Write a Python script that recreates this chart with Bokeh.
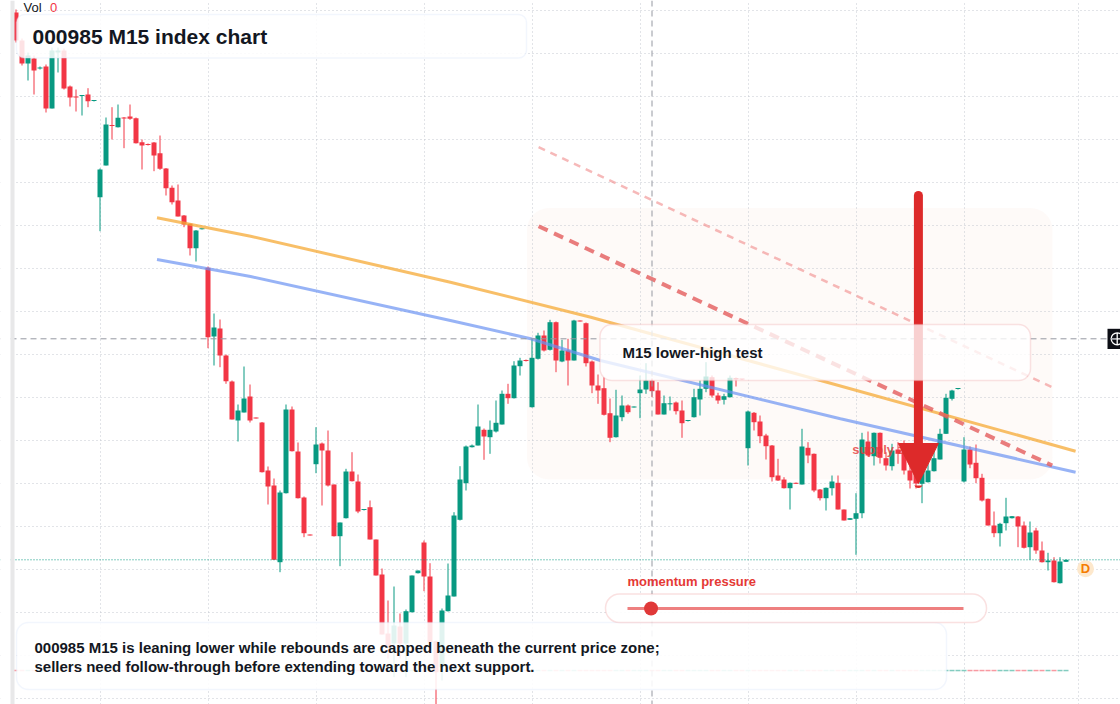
from bokeh.plotting import figure
from bokeh.models import (Range1d, BoxAnnotation, Label, Span, Arrow, NormalHead,
                          FixedTicker, Grid, ColumnDataSource)
from bokeh.core.properties import value
from bokeh.embed import file_html
from bokeh.resources import INLINE

# ---------------- data (15-minute bars, index price) ----------------
opens = [5988, 5960, 5937, 5942, 5932, 5934, 5892, 5948, 5950, 5914,
         5904, 5904.5, 5906, 5899.5, 5803.3, 5835, 5875.5, 5873.3, 5883, 5884,
         5882.3, 5858.3, 5856.5, 5858, 5847.3, 5832, 5812.7, 5800, 5785, 5776.7,
         5752.3, 5771.2, 5732.7, 5664, 5672, 5645, 5619, 5580, 5588, 5604,
         5583, 5578, 5530, 5515, 5438.3, 5507.3, 5591, 5549, 5503, 5466,
         5536.3, 5557, 5550, 5516, 5464.3, 5482.3, 5529, 5519, 5490.5, 5493.3,
         5461, 5426, 5367, 5357, 5374, 5357, 5388.3, 5427.3, 5458, 5424,
         5359.3, 5333.3, 5389.3, 5404, 5480.7, 5517.3, 5553.3, 5555, 5570.7, 5563.3,
         5569, 5576, 5606.7, 5602.3, 5634.3, 5640.5, 5593.3, 5641.7, 5665, 5650.7,
         5678.3, 5639, 5650, 5640, 5679.5, 5677.3, 5639, 5615, 5612.3, 5587.3,
         5563.3, 5583.3, 5595, 5593, 5607.3, 5611, 5620, 5610, 5586, 5596.2,
         5598, 5590, 5579.5, 5583.3, 5601, 5611.7, 5623.3, 5605, 5600.7, 5603.3,
         5622.5, 5621.5, 5552.3, 5587.7, 5579, 5565, 5555, 5525, 5521, 5512.3,
         5517.7, 5516, 5552.7, 5546.7, 5511, 5502.3, 5512.3, 5517.7, 5491, 5480.7,
         5481.7, 5487.3, 5559, 5544.3, 5567.7, 5542.3, 5534.3, 5551, 5552, 5530,
         5535, 5516.7, 5518.3, 5529.3, 5541, 5566.7, 5601.7, 5611.5, 5519, 5551,
         5537.7, 5522.7, 5501.7, 5475, 5467.3, 5477.3, 5482.3, 5484, 5475, 5453.3,
         5470, 5450, 5438.3, 5440, 5417.3, 5438.7]
highs = [5991, 5962, 5948, 5945, 5934, 5936, 5953, 5953, 5952, 5915,
         5911, 5905, 5912.3, 5900, 5832, 5883, 5893.3, 5896, 5883.5, 5896,
         5883, 5861, 5857, 5858.5, 5865, 5832.5, 5815, 5816, 5785.5, 5777,
         5770.5, 5772, 5734, 5687, 5681, 5646, 5620, 5596, 5634, 5616,
         5583, 5578.5, 5534, 5522, 5510, 5596, 5594, 5558, 5504, 5466,
         5573.3, 5558, 5570, 5516, 5478, 5531.7, 5548.3, 5526, 5491, 5500,
         5461, 5432, 5400, 5414, 5387, 5391, 5425, 5430, 5460, 5437.3,
         5360, 5392, 5437, 5488.3, 5534.3, 5555, 5556, 5596, 5572, 5580,
         5600, 5610, 5616.7, 5639.3, 5642.7, 5641, 5661.7, 5667.7, 5670, 5680.7,
         5679, 5660.7, 5661.7, 5680.7, 5680, 5678, 5640, 5626, 5623.3, 5602,
         5610.7, 5605, 5596, 5594, 5625, 5637.3, 5622, 5618.3, 5605, 5604,
         5599, 5600, 5580, 5611.7, 5620, 5638.3, 5625, 5607.7, 5606.7, 5625,
         5623, 5621.5, 5590, 5588.5, 5585, 5566.7, 5555.5, 5541.7, 5523.3, 5518,
         5518, 5571.7, 5558.3, 5547, 5511.5, 5513, 5525, 5525, 5491, 5482.5,
         5507.3, 5567.7, 5569, 5568, 5568, 5548.3, 5556.7, 5558.3, 5560, 5535,
         5542, 5535, 5538, 5555, 5571.7, 5606.7, 5610.7, 5612, 5563.3, 5554,
         5556, 5526.7, 5502, 5489, 5477.7, 5502.7, 5484.5, 5484.5, 5479, 5479,
         5472.7, 5459, 5447.7, 5443.3, 5443.3, 5441]
lows = [5958, 5935, 5920, 5906, 5931, 5888, 5892, 5928, 5911, 5894,
        5889, 5885, 5893.3, 5899, 5769.3, 5835, 5861, 5873, 5852.3, 5880.7,
        5857, 5831, 5855, 5829.3, 5830.7, 5805, 5796, 5784, 5773.3, 5745,
        5739, 5771, 5652.3, 5635, 5633.3, 5616.7, 5581, 5559, 5588, 5578,
        5582, 5528, 5496, 5440.5, 5428.3, 5507, 5549, 5502, 5463.3, 5465,
        5527.3, 5495, 5514, 5464, 5434.3, 5482, 5519, 5487.3, 5490, 5461,
        5425, 5366, 5342, 5323.3, 5342, 5323.3, 5388, 5427, 5409.3, 5358.3,
        5292, 5320, 5389, 5404, 5480, 5510, 5553, 5555, 5540.7, 5546.7,
        5568, 5576, 5596.7, 5602, 5625, 5639, 5593, 5641, 5649, 5650,
        5628.3, 5638.3, 5615, 5640, 5679, 5634, 5607.3, 5596.7, 5585, 5558.3,
        5563, 5579.3, 5586.7, 5593, 5582.3, 5606.7, 5603.3, 5586, 5586, 5590,
        5586, 5562.7, 5579, 5583, 5585, 5608.3, 5603, 5596.7, 5596, 5603,
        5614, 5620.5, 5535, 5570, 5557.3, 5541, 5519, 5519.5, 5512, 5491,
        5516.5, 5516, 5537.3, 5508.3, 5500, 5490, 5505, 5491, 5480, 5480.5,
        5445.7, 5482.3, 5544, 5535, 5537, 5530, 5530, 5536.7, 5526, 5512,
        5512, 5497.3, 5518, 5529, 5541, 5566.5, 5600, 5611, 5518, 5532.3,
        5517.3, 5499, 5475, 5463.3, 5454, 5470, 5482, 5453.3, 5452, 5440.7,
        5446.7, 5438, 5430, 5418, 5417, 5438.5]
closes = [5960, 5937, 5945, 5930, 5933, 5892, 5950, 5950, 5912, 5903,
          5903, 5905, 5899.3, 5900, 5831, 5876, 5874.5, 5882.7, 5882, 5881.7,
          5857.3, 5855, 5855.5, 5845, 5831.7, 5812.3, 5798.3, 5784, 5776, 5752.3,
          5770, 5771.7, 5663.3, 5673, 5645, 5619.3, 5581, 5590, 5602, 5580,
          5582, 5528.3, 5514, 5440.7, 5508, 5591, 5549.3, 5502.3, 5467.3, 5465,
          5556, 5550, 5515, 5464.3, 5478, 5529, 5519.3, 5489, 5491, 5461,
          5425, 5366, 5353.3, 5375, 5357, 5389.3, 5425, 5430, 5424, 5358.3,
          5328.3, 5390, 5405, 5485, 5521, 5554, 5555, 5574, 5564, 5570.7,
          5577.7, 5606.7, 5602.3, 5635, 5640, 5639.5, 5642.7, 5665, 5650, 5678.3,
          5640, 5650, 5640, 5680, 5679, 5637.3, 5615, 5610, 5585.7, 5562.7,
          5585, 5595, 5588.3, 5593.5, 5611, 5620, 5609.3, 5586, 5597.3, 5596.7,
          5589.3, 5577.3, 5580, 5603.3, 5611.7, 5624, 5605, 5600, 5604.3, 5622.7,
          5621, 5621, 5589, 5578.3, 5564.3, 5554.3, 5523.3, 5520, 5512.3, 5517.7,
          5516.7, 5554, 5545, 5510, 5502.3, 5512.7, 5519, 5491, 5480, 5482.3,
          5487.3, 5561, 5545, 5567.7, 5542.7, 5535, 5550, 5546.7, 5530, 5520,
          5517, 5530, 5530, 5542.3, 5566.7, 5602.7, 5610, 5612, 5551, 5536,
          5522.3, 5500, 5475, 5467.3, 5476.7, 5484, 5484.3, 5474, 5452.7, 5468,
          5450, 5438.3, 5440, 5418.3, 5439, 5440.7]

# drawn studies (bar index, price)
res_bars = [23.5, 39.1, 72.4, 95.8, 134.1, 176.6]
res_prices = [5782.7, 5764.3, 5718.3, 5683.3, 5620.0, 5549.3]
sup_bars = [23.5, 39.1, 72.4, 85.8, 97.4, 137.4, 176.6]
sup_prices = [5741.0, 5724.0, 5680.0, 5661.7, 5640.0, 5581.7, 5528.3]
guide_bars = [87.1, 172.7]
upper_guide = [5853.3, 5613.3]
lower_guide = [5774.3, 5535.0]
arrow_bar = 150.4
arrow_from, arrow_to = 5805.0, 5517.0
crosshair_bar, crosshair_price = 106, 5661.7
momentum_pressure = 0.07
vol_value = 0

title_text = "000985 M15 index chart"
note_text = "M15 lower-high test"
zone_text = "supply zone"
summary_lines = ["000985 M15 is leaning lower while rebounds are capped beneath the current price zone;",
                 "sellers need follow-through before extending toward the next support."]

# ---------------- layout helpers ----------------
W, H = 1120, 704
BAR_PX, X0_PX, TOP = 6.0, 15.5, 6000.0


def bx(px):
    return (px - X0_PX) / BAR_PX


def py(y):
    return TOP - y


UP, DOWN = "#089981", "#f23645"
FONT = "Liberation Sans"
INK = "#131722"

p = figure(width=W, height=H, x_range=Range1d(bx(0), bx(W)), y_range=Range1d(py(H), py(0)),
           output_backend="svg", toolbar_location=None, x_axis_type=None, y_axis_type=None,
           min_border=0, background_fill_color="white", border_fill_color="white")
p.outline_line_color = None

# supply zone shading
p.add_layout(BoxAnnotation(left=bx(526.5), right=bx(1052), top=py(207.5), bottom=py(479),
                           border_radius=22, fill_color="#f6e3d6", fill_alpha=0.16,
                           line_color=None, level="underlay"))

# grids
p.add_layout(Grid(dimension=0, ticker=FixedTicker(ticks=[14, 32, 50, 68, 86, 104, 122, 140, 158, 177]),
                  grid_line_color="#c4c8d0", grid_line_dash="1 3", grid_line_width=1))
p.add_layout(Grid(dimension=1, ticker=FixedTicker(ticks=[py(9.5 + 43 * k) for k in range(17)]),
                  grid_line_color="#c4c8d0", grid_line_dash="1 3", grid_line_width=1))

n = len(opens)
idx = list(range(n))
colors = [UP if c >= o else DOWN for o, c in zip(opens, closes)]
bot = [min(o, c) for o, c in zip(opens, closes)]
top = [max(max(o, c), b + 1.0) for o, c, b in zip(opens, closes, bot)]
src = ColumnDataSource(dict(x=idx, high=highs, low=lows, top=top, bottom=bot, color=colors))

# zero-volume histogram baseline
p.vbar(x="x", width=5 / 6, top=py(669.3), bottom=py(670.8), fill_color="color", fill_alpha=0.5,
       line_color=None, source=src)

# candles
p.segment(x0="x", y0="high", x1="x", y1="low", line_color="color", line_width=1, source=src)
p.vbar(x="x", width=5 / 6, top="top", bottom="bottom", fill_color="color", line_color=None, source=src)

# supply zone caption
p.text(x=[bx(851.7)], y=[py(448.5)], text=[zone_text], text_font=value(FONT), text_font_style="bold",
       text_font_size="13px", text_color="#e53935", text_alpha=0.8, text_baseline="alphabetic")

# trend lines
p.line(res_bars, res_prices, line_color="#f6a935", line_alpha=0.75, line_width=3)
p.line(sup_bars, sup_prices, line_color="#6b93f2", line_alpha=0.7, line_width=3)
p.line(guide_bars, upper_guide, line_color="#f08a8a", line_alpha=0.6, line_width=2.5, line_dash="7 6")
p.line(guide_bars, lower_guide, line_color="#e45c5c", line_alpha=0.8, line_width=4, line_dash="10 7")

# last price line & crosshair
p.add_layout(Span(location=closes[-1], dimension="width", line_color=UP, line_dash="1 2", line_width=1))
p.add_layout(Span(location=crosshair_price, dimension="width", line_color="#9598a1", line_dash="6 4", line_width=1))
p.add_layout(Span(location=crosshair_bar, dimension="height", line_color="#9598a1", line_dash="6 4", line_width=1))

# crosshair price label stub at right edge
p.quad(left=[bx(1107)], right=[bx(1124)], top=[py(328.3)], bottom=[py(348.5)], fill_color="#0c0e15", line_color=None)
p.scatter([bx(1116.7)], [crosshair_price], marker="circle_cross", size=12, fill_color=None,
          line_color="white", line_width=1.3)

# "D" marker
p.scatter([bx(1085)], [py(568.3)], marker="circle", size=17, fill_color="#fde8cc", line_color=None)
p.text(x=[bx(1085)], y=[py(568.3)], text=["D"], text_font=value(FONT), text_font_style="bold",
       text_font_size="13px", text_color="#f57c00", text_align="center", text_baseline="middle")

# left pane edge
p.add_layout(BoxAnnotation(left=bx(0), right=bx(10), fill_color="white", fill_alpha=1, line_color=None))
p.add_layout(BoxAnnotation(left=bx(10), right=bx(14), fill_color="#e8e8e9", fill_alpha=1, line_color=None))

# arrow
red = "#dd2a2a"
p.add_layout(Arrow(x_start=arrow_bar, y_start=arrow_from, x_end=arrow_bar, y_end=arrow_to,
                   line_color=red, line_width=9, line_cap="round",
                   end=NormalHead(size=40, fill_color=red, line_color=red, line_width=1)))

# boxes
p.add_layout(BoxAnnotation(left=bx(599.5), right=bx(1030), top=py(324), bottom=py(380), border_radius=12,
                           fill_color="white", fill_alpha=0.78, line_color="#f0a3a6", line_width=1.5))
p.add_layout(BoxAnnotation(left=bx(16), right=bx(526), top=py(14), bottom=py(57.5), border_radius=8,
                           fill_color="white", fill_alpha=0.86, line_color="#d3e1fa", line_width=1.5))
p.add_layout(BoxAnnotation(left=bx(16), right=bx(946), top=py(622), bottom=py(689), border_radius=12,
                           fill_color="white", fill_alpha=0.88, line_color="#d3e1fa", line_width=1.5))
p.add_layout(BoxAnnotation(left=bx(605), right=bx(986), top=py(593.5), bottom=py(622), border_radius=14,
                           fill_color="white", fill_alpha=0.9, line_color="#ee9a9a", line_width=1.5))

# momentum gauge (on top of its pill)
g0, g1 = 627, 963
r = p.segment(x0=[bx(g0)], y0=[py(608)], x1=[bx(g1)], y1=[py(608)], line_color="#ee8080", line_width=3)
r.level = "overlay"
r = p.scatter([bx(g0 + momentum_pressure * (g1 - g0))], [py(608)], marker="circle", size=14,
              fill_color="#e03838", line_color=None)
r.level = "overlay"

# texts (y = visual baseline, Label renders ~7px lower than requested)
LIFT = 7


def lab(x_px, y_px, text, size, color=INK, style="bold"):
    p.add_layout(Label(x=bx(x_px), y=py(y_px - LIFT), text=text, text_font=FONT, text_font_size=size,
                       text_font_style=style, text_color=color, text_baseline="alphabetic"))


lab(23, 14.3, "Vol", "13px", style="normal")
lab(49.5, 14.3, str(vol_value), "13px", color=DOWN, style="normal")
lab(32, 42.7, title_text, "21px")
lab(622, 359.3, note_text, "15px")
lab(627, 587.7, "momentum pressure", "13px", color="#e53935")
lab(34, 654.3, summary_lines[0], "15px")
lab(34, 673.3, summary_lines[1], "15px")

open("out.html", "w").write(file_html(p, INLINE))
